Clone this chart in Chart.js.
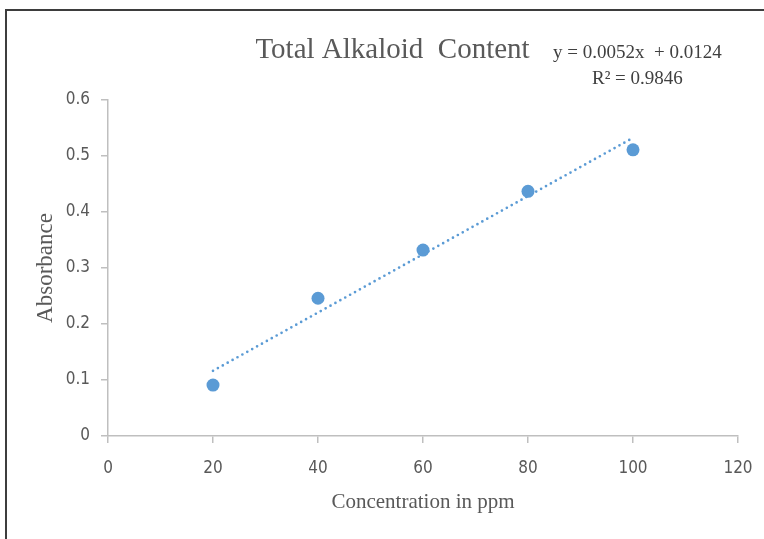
<!DOCTYPE html>
<html>
<head>
<meta charset="utf-8">
<script src="https://cdn.jsdelivr.net/npm/chart.js@4.4.1/dist/chart.umd.min.js"></script>
<style>
  html, body { margin: 0; padding: 0; background: #ffffff; overflow: hidden; }
  #frame {
    position: absolute; left: 5px; top: 9px; width: 800px; height: 600px;
    border-top: 2px solid #3d3d3d; border-left: 2px solid #3d3d3d;
  }
  #chart { position: absolute; left: 0; top: 0; }
</style>
</head>
<body>
<div id="frame"></div>
<canvas id="chart" width="764" height="539"></canvas>
<script>
// Calibration standard: concentration (ppm) vs absorbance
const concentration = [20, 40, 60, 80, 100];
const absorbance = [0.091, 0.246, 0.332, 0.437, 0.511];

// Tick labels for both axes
const xTickLabels = ['0', '20', '40', '60', '80', '100', '120'];
const yTickLabels = ['0', '0.1', '0.2', '0.3', '0.4', '0.5', '0.6'];

// Linear fit reported on the chart
const trendSlope = 0.0052;
const trendIntercept = 0.0124;
const rSquared = 0.9846;

const serif = '"Liberation Serif", "Times New Roman", serif';
const narrow = '"Liberation Sans Narrow", "DejaVu Sans Condensed", "Liberation Sans", sans-serif';
const textGrey = '#595959';
const axisGrey = '#bfbfbf';
const blue = '#5b9bd5';

const points = concentration.map((c, i) => ({ x: c, y: absorbance[i] }));
const trendX = [concentration[0], concentration[concentration.length - 1]];
const trendPoints = trendX.map(x => ({ x: x, y: trendSlope * x + trendIntercept }));

// Writes the fitted equation and R² beside the title
const equationLabel = {
  id: 'equationLabel',
  afterDraw(chart) {
    const { ctx, chartArea } = chart;
    ctx.save();
    ctx.fillStyle = '#404040';
    ctx.font = '19px ' + serif;
    ctx.textAlign = 'left';
    ctx.textBaseline = 'middle';
    const sign = trendIntercept >= 0 ? '+' : '-';
    ctx.fillText('y = ' + trendSlope.toFixed(4) + 'x  ' + sign + ' ' + Math.abs(trendIntercept).toFixed(4),
      chartArea.right - 185, chartArea.top - 47);
    ctx.fillText('R\u00B2 = ' + rSquared.toFixed(4), chartArea.right - 146, chartArea.top - 21);
    ctx.restore();
  }
};

function build() {
  new Chart(document.getElementById('chart'), {
    type: 'scatter',
    data: {
      datasets: [
        {
          label: 'Linear fit',
          type: 'line',
          data: trendPoints,
          borderColor: blue,
          borderWidth: 2.7,
          borderDash: [0, 5.6],
          borderCapStyle: 'round',
          pointRadius: 0,
          fill: false,
          order: 0
        },
        {
          label: 'Absorbance',
          data: points,
          backgroundColor: blue,
          borderColor: blue,
          borderWidth: 0,
          pointRadius: 6.5,
          pointHoverRadius: 6.5,
          order: 1
        }
      ]
    },
    options: {
      responsive: false,
      animation: false,
      devicePixelRatio: 1,
      // left/right padding keeps the title centred where the plot sits
      layout: { padding: { left: 47, right: 26, top: 0, bottom: 0 } },
      plugins: {
        legend: { display: false },
        tooltip: { enabled: false },
        title: {
          display: true,
          text: 'Total Alkaloid  Content',
          color: textGrey,
          font: { family: serif, size: 29, weight: 'normal', lineHeight: 1.2 },
          padding: { top: 33, bottom: 32.2 }
        }
      },
      scales: {
        x: {
          type: 'linear',
          min: 0,
          max: 120,
          afterFit: s => {
            s.height = 103;
            // last label only needs half its width beyond the axis end
            s.paddingRight = 12;
          },
          ticks: {
            stepSize: 20,
            padding: 15,
            color: textGrey,
            font: { family: narrow, size: 17 },
            callback: (v, i) => xTickLabels[i]
          },
          grid: { drawOnChartArea: false, drawTicks: true, tickLength: 7, color: axisGrey, lineWidth: 1.5 },
          border: { color: axisGrey, width: 1.5 },
          title: {
            display: true,
            text: 'Concentration in ppm',
            color: textGrey,
            font: { family: serif, size: 21, lineHeight: 1.2 },
            padding: { top: 0, bottom: 24 }
          }
        },
        y: {
          min: 0,
          max: 0.6,
          afterFit: s => { s.width = 61; },
          ticks: {
            stepSize: 0.1,
            padding: 11,
            color: textGrey,
            font: { family: narrow, size: 17 },
            callback: (v, i) => yTickLabels[i]
          },
          grid: { drawOnChartArea: false, drawTicks: true, tickLength: 7, color: axisGrey, lineWidth: 1.5 },
          border: { color: axisGrey, width: 1.5 },
          title: {
            display: true,
            text: 'Absorbance',
            color: textGrey,
            font: { family: serif, size: 23, lineHeight: 1.2 },
            // title sits in the left margin, outside the narrow axis box
            padding: { top: -14.8, bottom: 0 }
          }
        }
      }
    },
    plugins: [equationLabel]
  });
}

Promise.all([
  document.fonts.load('29px "Liberation Serif"'),
  document.fonts.load('17px "Liberation Sans Narrow"'),
  document.fonts.load('17px "Liberation Sans"')
]).then(build, build);
</script>
</body>
</html>
